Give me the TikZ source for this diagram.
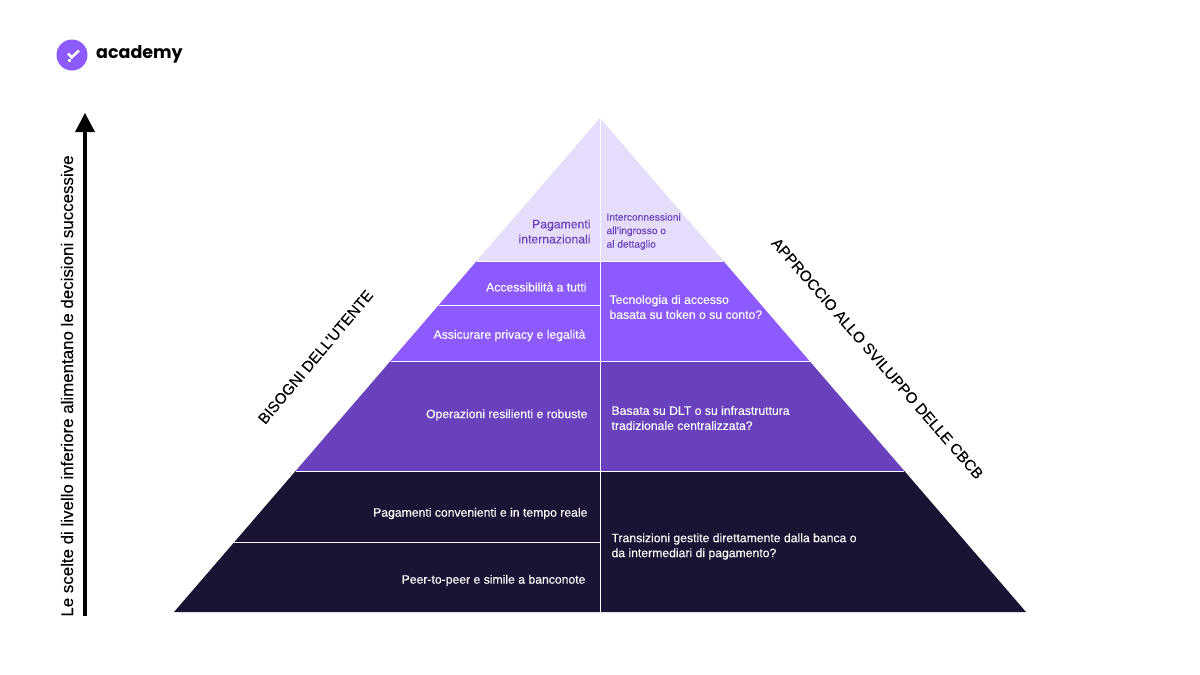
\documentclass[tikz,border=0pt]{standalone}
\usepackage{fontspec}
\setmainfont[FakeBold=0.12]{Liberation Sans}
\newfontfamily\brandfont{Poppins}
\definecolor{tierdark}{HTML}{1B1333}
\definecolor{tiermid}{HTML}{6A41BD}
\definecolor{tierviolet}{HTML}{8C5AFF}
\definecolor{tierlight}{HTML}{E6DDFB}
\tikzset{
  lefttext/.style={text=white,font=\fontsize{12.2}{15}\selectfont,anchor=east,align=right},
  righttext/.style={text=white,font=\fontsize{12.2}{15}\selectfont,anchor=west,align=left},
  sidetext/.style={text=black,font=\fontsize{15.2}{18}\selectfont,anchor=center},
  tierline/.style={white!85!tierlight,line width=1pt}
}
\begin{document}
\begin{tikzpicture}[x=1pt,y=-1pt]
\useasboundingbox (0,0) rectangle (1200,675);
% logo
\fill[tierviolet] (72,55) circle (15.5);
\draw[white,line width=2.6pt] (68,53.5) -- (71.7,57.3) -- (79,50.5);
\fill[white] (67.5,59) rectangle (71,62);
\node[anchor=west,inner sep=0pt,font=\fontsize{17.5}{24}\selectfont\brandfont\bfseries] (brand) at (96,54) {academy};
% arrow
\coordinate (arrowfoot) at (85,616);
\coordinate (arrowtip) at (85,132);
\draw[line width=3.2pt] (arrowfoot) -- (arrowtip);
\fill (75,132) -- (85,113) -- (95,132) -- cycle;
\node[rotate=90,font=\fontsize{16.9}{18}\selectfont] (choices) at (67,386) {Le scelte di livello inferiore alimentano le decisioni successive};
% pyramid tiers
\fill[tierlight] (600,118) -- (723.3,261) -- (476.7,261) -- cycle;
\fill[tierviolet] (476.7,261) -- (723.3,261) -- (809.5,361) -- (390.5,361) -- cycle;
\fill[tiermid] (390.5,361) -- (809.5,361) -- (904.4,471) -- (295.6,471) -- cycle;
\fill[tierdark] (295.6,471) -- (904.4,471) -- (1026,612) -- (174,612) -- cycle;
% separators
\draw[tierline] (600,118) -- (600,612);
\draw[tierline] (476.7,261) -- (723.3,261);
\draw[tierline] (438.7,305) -- (600,305);
\draw[tierline] (390.5,361) -- (809.5,361);
\draw[tierline] (295.6,471) -- (904.4,471);
\draw[tierline] (234.4,542) -- (600,542);
% left texts
\node[lefttext,text=tiermid] (intl) at (594,231.5) {Pagamenti\\internazionali};
\node[lefttext] (access) at (590,287) {Accessibilità a tutti};
\node[lefttext] (privacy) at (589,335.5) {Assicurare privacy e legalità};
\node[lefttext] (resilient) at (591,415) {Operazioni resilienti e robuste};
\node[lefttext] (realtime) at (591,513.5) {Pagamenti convenienti e in tempo reale};
\node[lefttext] (p2p) at (589,580.5) {Peer-to-peer e simile a banconote};
% right texts
\node[righttext,text=tiermid,font=\fontsize{10.2}{13.5}\selectfont] (links) at (603,231.5) {Interconnessioni\\all'ingrosso o\\al dettaglio};
\node[righttext] (token) at (606,307) {Tecnologia di accesso\\basata su token o su conto?};
\node[righttext] (dlt) at (608,418) {Basata su DLT o su infrastruttura\\tradizionale centralizzata?};
\node[righttext] (bank) at (608,546.5) {Transizioni gestite direttamente dalla banca o\\da intermediari di pagamento?};
% side labels
\node[sidetext,rotate=50] (needs) at (315.5,357) {BISOGNI DELL'UTENTE};
\node[sidetext,rotate=-49] (approach) at (877.5,358.5) {APPROCCIO ALLO SVILUPPO DELLE CBCB};
\end{tikzpicture}
\end{document}
